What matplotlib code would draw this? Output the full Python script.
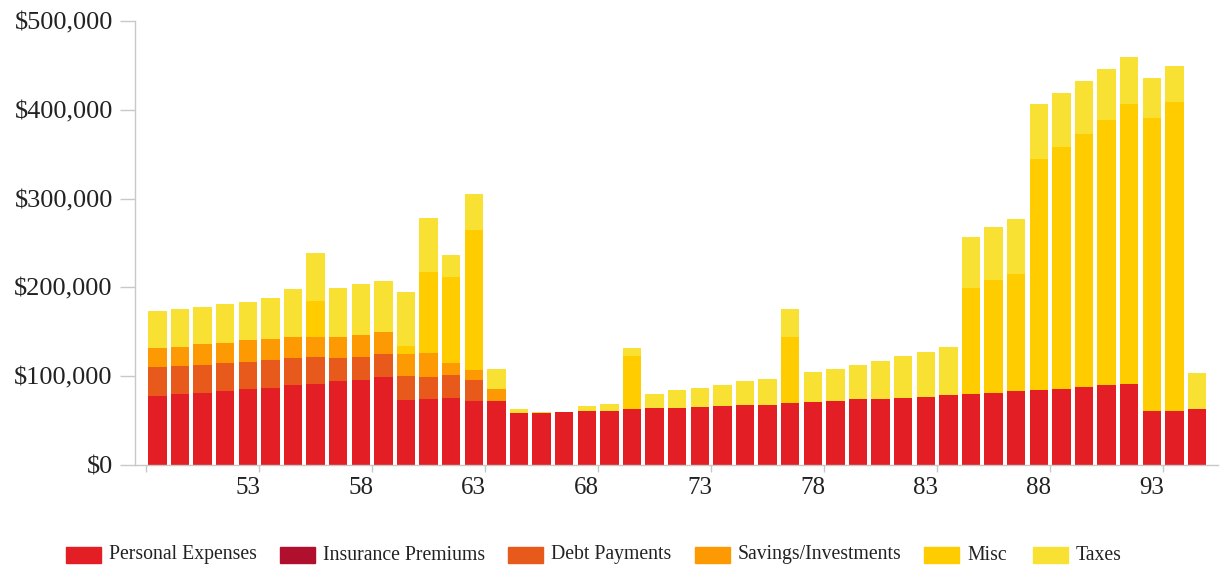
import numpy as np
import matplotlib
matplotlib.use('Agg')
import matplotlib.pyplot as plt
from matplotlib.patches import Rectangle
from matplotlib.ticker import FuncFormatter

plt.rcParams['font.family'] = ['Liberation Serif', 'DejaVu Serif']

## Ages shown on the x axis (one bar per year)
ages = np.arange(49, 96)

## Yearly amounts in thousands of dollars
personal = [78.0, 79.6, 81.1, 83.7, 85.6, 87.1, 89.7, 91.6, 94.2, 95.7,
            98.8, 72.9, 74.0, 75.1, 72.4, 72.4, 58.2, 58.2, 59.3, 61.2,
            61.2, 62.7, 63.8, 63.8, 65.3, 66.6, 67.9, 67.9, 69.4, 70.9,
            72.4, 74.0, 74.0, 75.5, 77.0, 78.3, 80.0, 81.5, 83.0, 84.5,
            86.0, 88.2, 89.7, 91.2, 61.2, 61.2, 62.7]
insurance = [0.0] * 47
debt = [32.0, 31.9, 31.9, 30.8, 30.0, 31.5, 30.4, 30.0, 25.9, 25.9,
        25.9, 27.0, 25.5, 26.3, 23.3] + [0.0] * 32
savings = [21.4, 21.7, 23.3, 22.9, 24.8, 23.3, 24.4, 22.9, 24.4, 24.8,
           24.7, 25.1, 26.3, 13.1, 11.3, 13.2] + [0.0] * 31
misc = [0.0, 0.0, 0.0, 0.0, 0.0, 0.0, 0.0, 40.5, 0.0, 0.0,
        0.0, 9.3, 91.2, 96.8, 157.6, 0.0, 0.0, 0.0, 0.0, 0.0,
        0.0, 60.4, 0.0, 0.0, 0.0, 0.0, 0.0, 0.0, 75.1, 0.0,
        0.0, 0.0, 0.0, 0.0, 0.0, 0.0, 119.7, 127.2, 132.5, 259.7,
        272.5, 284.5, 298.8, 315.0, 329.2, 348.0, 0.0]
taxes = [42.0, 42.1, 41.6, 43.6, 43.2, 45.8, 53.3, 54.1, 55.2, 57.4,
         57.5, 60.9, 60.8, 25.6, 40.6, 22.9, 4.5, 1.1, 0.5, 5.6,
         7.1, 9.0, 16.2, 20.3, 21.8, 23.1, 26.3, 29.3, 30.8, 33.5,
         36.1, 38.6, 43.5, 47.2, 50.3, 54.7, 57.4, 58.9, 61.9, 62.0,
         60.8, 59.4, 57.8, 53.3, 45.8, 40.5, 40.5]

labels = ['Personal Expenses', 'Insurance Premiums', 'Debt Payments',
          'Savings/Investments', 'Misc', 'Taxes']
series = [personal, insurance, debt, savings, misc, taxes]
colors = ['#E31E24', '#B10F2E', '#E8591C', '#FD9A03', '#FFCC00', '#F9E133']

fig = plt.figure(figsize=(12.2, 5.65), dpi=100)
ax = fig.add_axes([0.1107, 0.1770, 0.8877, 0.7858])

## Stack the series, values converted to dollars
bottom = np.zeros(len(ages))
for vals, c in zip(series, colors):
    v = np.array(vals) * 1000
    ax.bar(ages, v, bottom=bottom, width=0.81, color=c, linewidth=0)
    bottom += v

ax.set_xlim(48.01, 95.93)
ax.set_ylim(0, 500000)

## Axis styling
for s in ['top', 'right']:
    ax.spines[s].set_visible(False)
for s in ['left', 'bottom']:
    ax.spines[s].set_color('#c8c8c8')
    ax.spines[s].set_linewidth(1)

ax.set_yticks(np.arange(0, 500001, 100000))
ax.yaxis.set_major_formatter(FuncFormatter(lambda v, p: '${:,.0f}'.format(v)))
ax.tick_params(axis='y', length=11, width=1, color='#c8c8c8', pad=5,
               labelsize=19, labelcolor='#222222')

ax.set_xticks(np.arange(53, 94, 5))
ax.set_xticks(np.arange(48.5, 94, 5), minor=True)
ax.tick_params(axis='x', which='major', length=0, pad=9, labelsize=18,
               labelcolor='#222222')
ax.tick_params(axis='x', which='minor', length=5, width=1, color='#c8c8c8')

## Legend drawn as a row of swatches under the chart
sw_x = [66, 280, 508, 695, 924, 1033]
for x0, lab, c in zip(sw_x, labels, colors):
    fig.patches.append(Rectangle((x0 / 1220, 1 - 563 / 565), 35 / 1220, 16 / 565,
                                 transform=fig.transFigure, color=c))
    fig.text((x0 + 43) / 1220, 1 - 555 / 565, lab, fontsize=14.2,
             va='center', ha='left', color='#222222')

fig.savefig('out.png', dpi=100)
